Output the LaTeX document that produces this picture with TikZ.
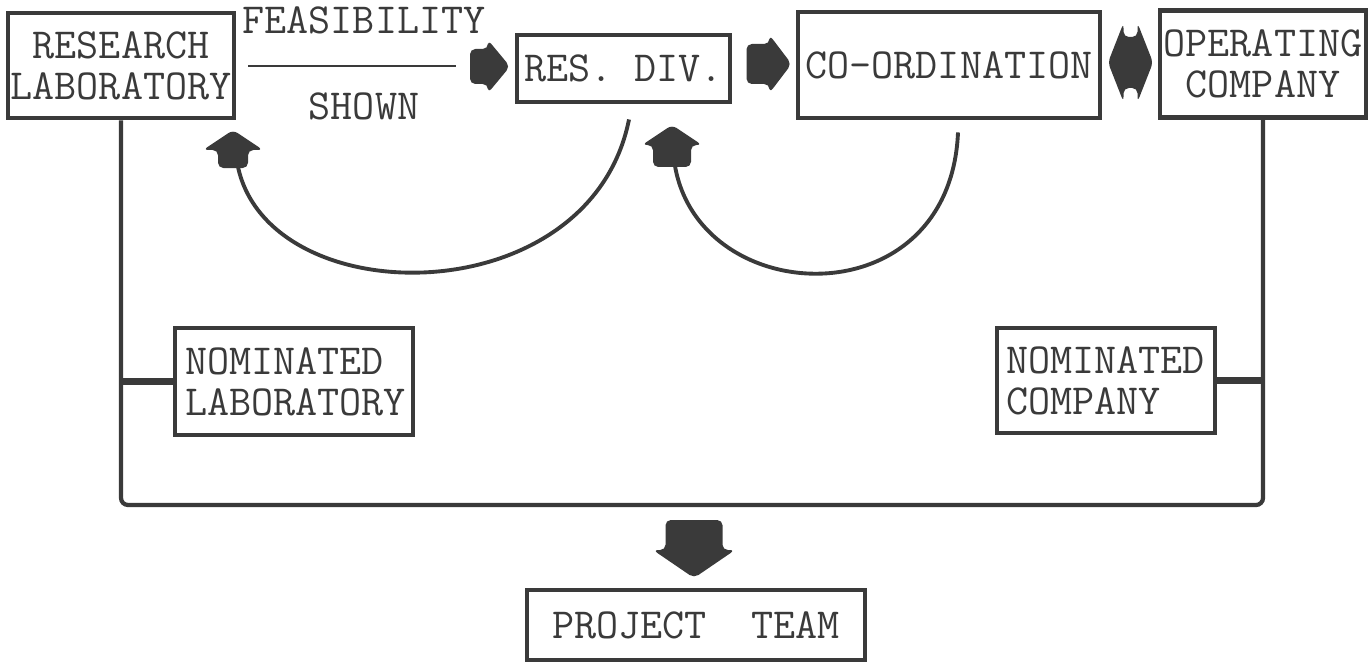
\documentclass[tikz,border=0pt]{standalone}
\usepackage{xcolor}
\usetikzlibrary{positioning}

\definecolor{ink}{HTML}{3A3A3A}

% block arrow: x, y, rotation, length, shaft, head width, head length
\newcommand{\fatarrow}[7]{%
    \fill[ink, rounded corners=1.5pt, shift={(#1,#2)}, rotate=#3]
        (-#4/2,-#5/2) -- (#4/2-#7,-#5/2) -- (#4/2-#7,-#6/2) -- (#4/2,0)
        -- (#4/2-#7,#6/2) -- (#4/2-#7,#5/2) -- (-#4/2,#5/2) -- cycle;}
% same with a head at both ends
\newcommand{\fatboth}[6]{%
    \fill[ink, rounded corners=1.5pt, shift={(#1,#2)}]
        (-#3/2,0) -- (-#3/2+#6,-#5/2) -- (-#3/2+#6,-#4/2) -- (#3/2-#6,-#4/2)
        -- (#3/2-#6,-#5/2) -- (#3/2,0) -- (#3/2-#6,#5/2) -- (#3/2-#6,#4/2)
        -- (-#3/2+#6,#4/2) -- (-#3/2+#6,#5/2) -- cycle;}

\begin{document}
\begin{tikzpicture}[x=1cm, y=-1cm,
        every node/.style={font=\fontsize{12.2}{11.6}\selectfont\ttfamily, text=ink},
        box/.style={draw=ink, line width=1.4pt, inner sep=0pt},
        frame/.style={draw=ink, line width=1.2pt, rounded corners=2pt},
        stub/.style={draw=ink, line width=2.2pt},
        loopback/.style={draw=ink, line width=1.1pt}]
    \useasboundingbox (0,0) rectangle (13.69,6.67);

    % top row
    \node[box, minimum width=2.26cm, minimum height=1.05cm, align=center] (lab) at (1.21,0.655) {RESEARCH\\LABORATORY};
    \node[align=center, font=\fontsize{12.2}{12.2}\selectfont\ttfamily] (ratio) at (3.64,0.63) {FEASIBILITY\\\rule[0.09cm]{2.08cm}{0.5pt}\rule{0.24cm}{0pt}\\SHOWN};
    \node[box, minimum width=2.13cm, minimum height=0.67cm] (resdiv) at (6.235,0.685) {RES. DIV.};
    \node[box, minimum width=3.02cm, minimum height=1.06cm] (coord) at (9.49,0.65) {CO-ORDINATION};
    \node[box, minimum width=2.06cm, minimum height=1.07cm, align=center] (opco) at (12.63,0.64) {OPERATING\\COMPANY};
    \fatarrow{4.90}{0.665}{0}{0.40}{0.35}{0.53}{0.22}
    \fatarrow{7.69}{0.64}{0}{0.45}{0.40}{0.58}{0.22}
    \fatboth{11.305}{0.625}{0.45}{0.51}{0.79}{0.155}

    % feedback loops
    \fatarrow{2.33}{1.49}{90}{0.38}{0.30}{0.60}{0.20}
    \fatarrow{6.72}{1.46}{90}{0.42}{0.38}{0.60}{0.20}
    \coordinate (back1) at (2.38,1.67);
    \coordinate (back2) at (6.75,1.66);
    \draw[loopback] ([xshift=0.055cm, yshift=-0.15cm]resdiv.south) .. controls (5.90,3.15) and (2.70,3.15) .. (back1);
    \draw[loopback] ([xshift=0.09cm, yshift=-0.12cm]coord.south) .. controls (9.50,3.20) and (7.00,3.10) .. (back2);

    % nominated bodies and the joint frame
    \node[box, minimum width=2.38cm, minimum height=1.07cm, text width=2.18cm, align=left] (nomlab) at (2.94,3.815) {NOMINATED\\LABORATORY};
    \node[box, minimum width=2.18cm, minimum height=1.05cm, text width=2.00cm, align=left] (nomco) at (11.06,3.805) {NOMINATED\\COMPANY};
    \coordinate (base) at (6.94,5.05);
    \draw[frame] (lab.south) |- (base) -| (opco.south);
    \draw[stub] (nomlab.west) -- (nomlab.west -| lab.south);
    \draw[stub] (nomco.east) -- (nomco.east -| opco.south);

    % result
    \fatarrow{6.94}{5.49}{-90}{0.58}{0.57}{0.82}{0.28}
    \node[box, minimum width=3.38cm, minimum height=0.70cm] (team) at (6.96,6.25) {PROJECT\ \ TEAM};
\end{tikzpicture}
\end{document}
